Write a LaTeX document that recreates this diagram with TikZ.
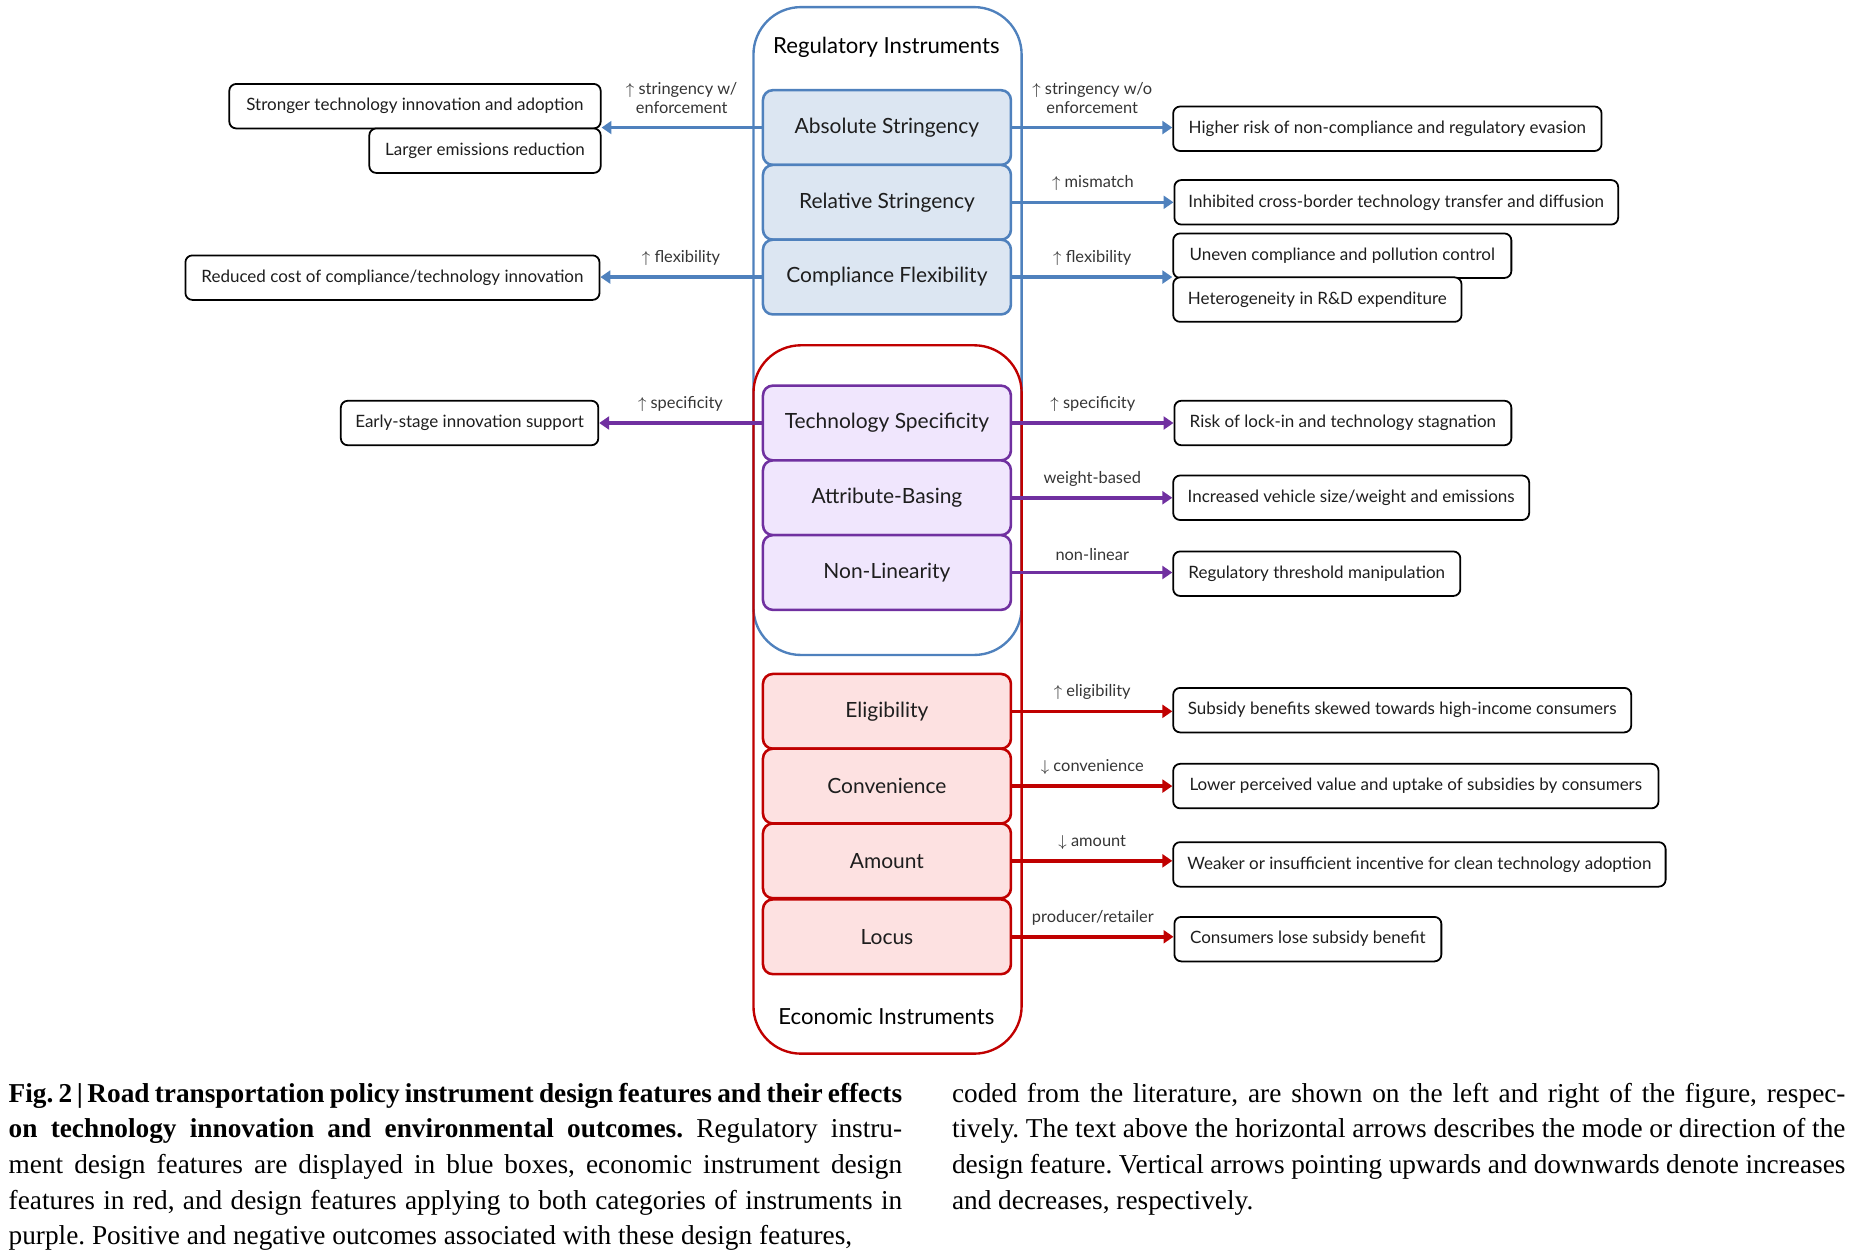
\documentclass[tikz,border=0pt]{standalone}
\usepackage{fontspec}
\setmainfont{Lato}
\newfontfamily\capfont{Liberation Serif}
\newfontfamily\capbold{Liberation Serif Bold}
\usetikzlibrary{arrows.meta}
\definecolor{bluel}{HTML}{4F81BD}
\definecolor{bluef}{HTML}{DCE6F2}
\definecolor{purl}{HTML}{7030A0}
\definecolor{purf}{HTML}{F0E6FD}
\definecolor{redl}{HTML}{C00000}
\definecolor{redf}{HTML}{FDE1E1}
\definecolor{txt}{HTML}{1E1E1E}
\tikzset{
  feat/.style={draw, line width=1.3pt, rounded corners=5pt, minimum width=125.4pt,
    minimum height=37.8pt, inner sep=0pt, text=txt, font=\fontsize{10.6}{12}\selectfont},
  bfeat/.style={feat, draw=bluel, fill=bluef},
  pfeat/.style={feat, draw=purl, fill=purf},
  rfeat/.style={feat, draw=redl, fill=redf},
  outc/.style={draw=black, line width=0.9pt, rounded corners=3.5pt, minimum height=22.5pt,
    inner sep=0pt, fill=white, text=txt, font=\fontsize{8.6}{10}\selectfont},
  outw/.style={outc, anchor=west},
  oute/.style={outc, anchor=east},
  arrowline/.style={line width=1.8pt, -{Triangle[length=5pt,width=6.5pt]}},
  lab/.style={font=\fontsize{8.3}{9.6}\selectfont, text=txt!90, inner sep=2pt, align=center, yshift=3pt},
  cont/.style={line width=1.2pt, rounded corners=24pt},
  title/.style={font=\fontsize{11.2}{13}\selectfont, text=black},
  capline/.style={anchor=base west, inner sep=0pt, font=\capfont\fontsize{13.8}{16}\selectfont\frenchspacing}
}
\begin{document}
\begin{tikzpicture}[x=0.6pt, y=-0.6pt]
\useasboundingbox (0,0) rectangle (1560,1059.4);
% containers
\draw[cont, draw=bluel] (635,6) rectangle (861,552);
\draw[cont, draw=redl] (635,291) rectangle (861,888);
\node[title] (regt) at (747,40) {Regulatory Instruments};
\node[title] (ecot) at (747,857) {Economic Instruments};
% feature boxes
\node[bfeat] (abs) at (747.5,107.5) {Absolute Stringency};
\node[bfeat] (rel) at (747.5,170.5) {Relative Stringency};
\node[bfeat] (comp) at (747.5,233.5) {Compliance Flexibility};
\node[pfeat] (tech) at (747.5,356.5) {Technology Specificity};
\node[pfeat] (attr) at (747.5,419.5) {Attribute-Basing};
\node[pfeat] (nonl) at (747.5,482.5) {Non-Linearity};
\node[rfeat] (elig) at (747.5,599.5) {Eligibility};
\node[rfeat] (conv) at (747.5,662.5) {Convenience};
\node[rfeat] (amt) at (747.5,725.5) {Amount};
\node[rfeat] (loc) at (747.5,789.5) {Locus};
% left outcomes
\node[oute, minimum width=187.8pt] (l1) at (507,89.5) {Stronger technology innovation and adoption};
\node[oute, minimum width=117pt] (l2) at (507,127) {Larger emissions reduction};
\node[oute, minimum width=209.4pt] (l3) at (506,234) {Reduced cost of compliance/technology innovation};
\node[oute, minimum width=130.2pt] (l4) at (505,356.5) {Early-stage innovation support};
% right outcomes
\node[outw, minimum width=216.6pt] (r1) at (988,108.5) {Higher risk of non-compliance and regulatory evasion};
\node[outw, minimum width=224.4pt] (r2) at (989,170.5) {Inhibited cross-border technology transfer and diffusion};
\node[outw, minimum width=171pt] (r3a) at (988,215.5) {Uneven compliance and pollution control};
\node[outw, minimum width=145.8pt] (r3b) at (988,252.5) {Heterogeneity in R\&D expenditure};
\node[outw, minimum width=170.4pt] (r4) at (989,356.5) {Risk of lock-in and technology stagnation};
\node[outw, minimum width=180pt] (r5) at (988,419.5) {Increased vehicle size/weight and emissions};
\node[outw, minimum width=145.2pt] (r6) at (988,483.5) {Regulatory threshold manipulation};
\node[outw, minimum width=231.6pt] (r7) at (988,598.5) {Subsidy benefits skewed towards high-income consumers};
\node[outw, minimum width=245.4pt] (r8) at (988,662.5) {Lower perceived value and uptake of subsidies by consumers};
\node[outw, minimum width=249pt] (r9) at (988,728.5) {Weaker or insufficient incentive for clean technology adoption};
\node[outw, minimum width=135pt] (r10) at (989,791.5) {Consumers lose subsidy benefit};
\coordinate (l12) at (507,107.5);
\coordinate (r3) at (988,233.5);
% left arrows
\draw[arrowline, bluel] (abs.west) -- node[lab, above, yshift=1pt] {$\uparrow$ stringency w/\\enforcement} (l12);
\draw[arrowline, bluel] (comp.west) -- node[lab, above] {$\uparrow$ flexibility} (comp.west -| l3.east);
\draw[arrowline, purl] (tech.west) -- node[lab, above] {$\uparrow$ specificity} (tech.west -| l4.east);
% right arrows
\draw[arrowline, bluel] (abs.east) -- node[lab, above, yshift=1pt] {$\uparrow$ stringency w/o\\enforcement} (abs.east -| r1.west);
\draw[arrowline, bluel] (rel.east) -- node[lab, above] {$\uparrow$ mismatch} (rel.east -| r2.west);
\draw[arrowline, bluel] (comp.east) -- node[lab, above] {$\uparrow$ flexibility} (r3);
\draw[arrowline, purl] (tech.east) -- node[lab, above] {$\uparrow$ specificity} (tech.east -| r4.west);
\draw[arrowline, purl] (attr.east) -- node[lab, above] {weight-based} (attr.east -| r5.west);
\draw[arrowline, purl] (nonl.east) -- node[lab, above] {non-linear} (nonl.east -| r6.west);
\draw[arrowline, redl] (elig.east) -- node[lab, above] {$\uparrow$ eligibility} (elig.east -| r7.west);
\draw[arrowline, redl] (conv.east) -- node[lab, above] {$\downarrow$ convenience} (conv.east -| r8.west);
\draw[arrowline, redl] (amt.east) -- node[lab, above] {$\downarrow$ amount} (amt.east -| r9.west);
\draw[arrowline, redl] (loc.east) -- node[lab, above] {producer/retailer} (loc.east -| r10.west);
% caption
\node[capline] (c1) at (7,929) {\makebox[451.8pt][s]{\capbold\frenchspacing Fig. 2\,|\,Road transportation policy instrument design features and their effects}};
\node[capline] (c2) at (7,959) {\makebox[451.8pt][s]{{\capbold\frenchspacing on technology innovation and environmental outcomes.} Regulatory instru-}};
\node[capline] (c3) at (7,989) {\makebox[451.8pt][s]{ment design features are displayed in blue boxes, economic instrument design}};
\node[capline] (c4) at (7,1019) {\makebox[451.8pt][s]{features in red, and design features applying to both categories of instruments in}};
\node[capline] (c5) at (7,1049) {purple. Positive and negative outcomes associated with these design features,};
\node[capline] (d1) at (802,929) {\makebox[451.8pt][s]{coded from the literature, are shown on the left and right of the figure, respec-}};
\node[capline] (d2) at (802,959) {\makebox[451.8pt][s]{tively. The text above the horizontal arrows describes the mode or direction of the}};
\node[capline] (d3) at (802,989) {\makebox[451.8pt][s]{design feature. Vertical arrows pointing upwards and downwards denote increases}};
\node[capline] (d4) at (802,1019) {and decreases, respectively.};
\end{tikzpicture}
\end{document}
